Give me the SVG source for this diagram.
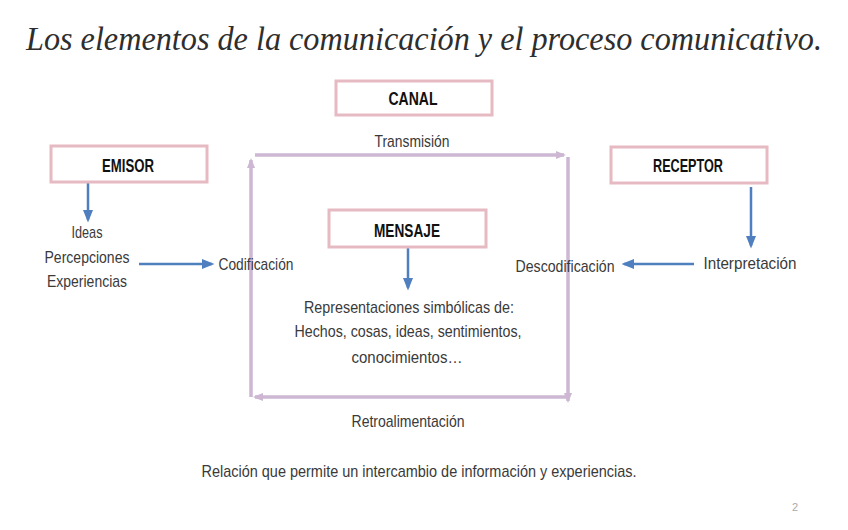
<svg xmlns="http://www.w3.org/2000/svg" width="848" height="530" viewBox="0 0 848 530">
<defs>
<style>
.box{fill:#fff;stroke:#e6bac2;stroke-width:3}
.lbl{font-family:"Liberation Sans Narrow","Liberation Sans",Arial,sans-serif;font-weight:bold;font-size:19px;fill:#111;text-anchor:middle}
.txt{font-family:"Liberation Sans Narrow","Liberation Sans",Arial,sans-serif;font-size:17px;fill:#3a3a3a;text-anchor:middle}
.blue{stroke:#4f7fbf;stroke-width:2.5;fill:none;marker-end:url(#ab)}
.pur{stroke:#cdb7d3;stroke-width:3.5;fill:none;marker-end:url(#ap)}
.title{font-family:"Liberation Serif",serif;font-style:italic;font-size:33px;fill:#2e2e2e}
</style>
<marker id="ab" viewBox="0 0 10 10" refX="8" refY="5" markerWidth="5" markerHeight="5" orient="auto" markerUnits="strokeWidth"><path d="M0,1 L10,5 L0,9 z" fill="#4f7fbf"/></marker>
<marker id="ap" viewBox="0 0 10 10" refX="8" refY="5" markerWidth="3" markerHeight="3" orient="auto" markerUnits="strokeWidth"><path d="M0,1 L10,5 L0,9 z" fill="#cdb7d3"/></marker>
</defs>
<rect width="848" height="530" fill="#fff"/>
<text class="title" x="26" y="50" textLength="796" lengthAdjust="spacingAndGlyphs">Los elementos de la comunicación y el proceso comunicativo.</text>

<g id="connectors">
<line class="pur" x1="255" y1="155" x2="564" y2="155"/>
<line class="pur" x1="568" y1="157" x2="568" y2="401"/>
<line class="pur" x1="566" y1="397" x2="255" y2="397"/>
<line class="pur" x1="251" y1="397" x2="251" y2="160"/>
<line class="blue" x1="88" y1="182" x2="88" y2="220"/>
<line class="blue" x1="139" y1="264" x2="212" y2="264"/>
<line class="blue" x1="408" y1="248" x2="408" y2="288"/>
<line class="blue" x1="751" y1="187" x2="751" y2="246"/>
<line class="blue" x1="694" y1="264" x2="624" y2="264"/>
</g>

<g id="canal"><rect class="box" x="336" y="81" width="156" height="34"/><text class="lbl" x="413" y="105" textLength="49" lengthAdjust="spacingAndGlyphs">CANAL</text></g>
<g id="emisor"><rect class="box" x="51" y="146" width="156" height="36"/><text class="lbl" x="128" y="172" textLength="52" lengthAdjust="spacingAndGlyphs">EMISOR</text></g>
<g id="receptor"><rect class="box" x="611" y="147" width="156" height="36"/><text class="lbl" x="688" y="172" textLength="70" lengthAdjust="spacingAndGlyphs">RECEPTOR</text></g>
<g id="mensaje"><rect class="box" x="329" y="210" width="157" height="37"/><text class="lbl" x="407" y="237" textLength="66" lengthAdjust="spacingAndGlyphs">MENSAJE</text></g>

<g id="emisor-contenido">
<text class="txt" x="87" y="238" textLength="31" lengthAdjust="spacingAndGlyphs">Ideas</text>
<text class="txt" x="87" y="263" textLength="85" lengthAdjust="spacingAndGlyphs">Percepciones</text>
<text class="txt" x="87" y="287" textLength="80" lengthAdjust="spacingAndGlyphs">Experiencias</text>
</g>
<g id="codificacion"><text class="txt" x="256" y="270" textLength="75" lengthAdjust="spacingAndGlyphs">Codificación</text></g>
<g id="transmision"><text class="txt" x="412" y="147" textLength="75" lengthAdjust="spacingAndGlyphs">Transmisión</text></g>
<g id="descodificacion"><text class="txt" x="565" y="272" textLength="99" lengthAdjust="spacingAndGlyphs">Descodificación</text></g>
<g id="interpretacion"><text class="txt" x="750" y="269" textLength="93" lengthAdjust="spacingAndGlyphs">Interpretación</text></g>
<g id="representaciones">
<text class="txt" x="409" y="313" textLength="210" lengthAdjust="spacingAndGlyphs">Representaciones simbólicas de:</text>
<text class="txt" x="408" y="337" textLength="227" lengthAdjust="spacingAndGlyphs">Hechos, cosas, ideas, sentimientos,</text>
<text class="txt" x="407" y="363" textLength="111" lengthAdjust="spacingAndGlyphs">conocimientos…</text>
</g>
<g id="retroalimentacion"><text class="txt" x="408" y="427" textLength="113" lengthAdjust="spacingAndGlyphs">Retroalimentación</text></g>
<text class="txt" x="419" y="477" textLength="435" lengthAdjust="spacingAndGlyphs">Relación que permite un intercambio de información y experiencias.</text>
<text x="795" y="511" font-family="Liberation Sans,sans-serif" font-size="11" fill="#aaa" text-anchor="middle">2</text>
</svg>
